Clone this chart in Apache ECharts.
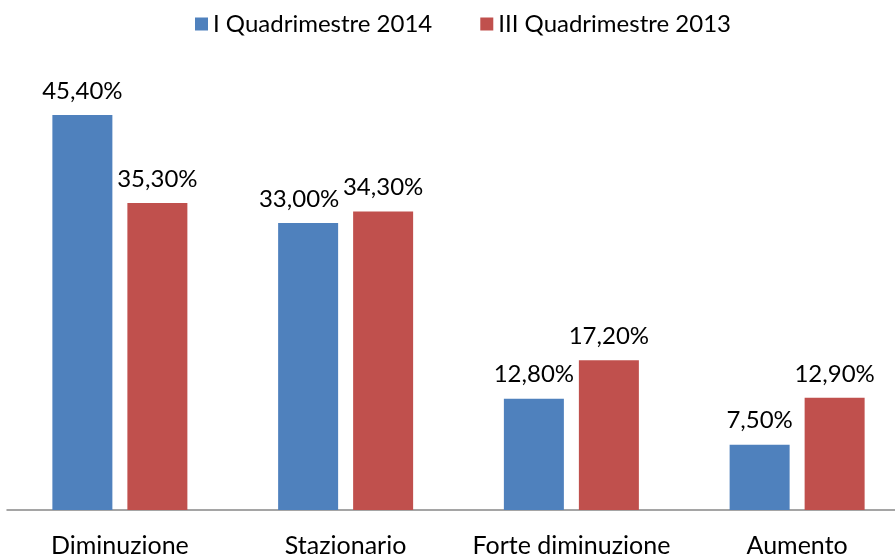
<!DOCTYPE html>
<html>
<head>
<meta charset="utf-8">
<script src="https://cdn.jsdelivr.net/npm/echarts@6/dist/echarts.min.js"></script>
<style>
    html, body { margin: 0; padding: 0; background: #fff; }
    #chart { width: 895px; height: 556px; }
</style>
</head>
<body>
<div id="chart"></div>
<script>
var categories = ['Diminuzione', 'Stazionario', 'Forte diminuzione', 'Aumento'];
var seriesNames = ['I Quadrimestre 2014', 'III Quadrimestre 2013'];
var values2014 = [45.4, 33.0, 12.8, 7.5];
var values2013 = [35.3, 34.3, 17.2, 12.9];

function fmt(p) {
    return p.value.toFixed(2).replace('.', ',') + '%';
}

var labelStyle = {
    show: true,
    position: 'top',
    distance: 12,
    color: '#000',
    fontSize: 24,
    fontFamily: 'Lato',
    formatter: fmt
};

// l'etichetta "33,00%" e' spostata a sinistra per non sovrapporsi
var data2014 = values2014.map(function (v, i) {
    if (i == 1) {
        return {value: v, label: {offset: [-9, 0]}};
    }
    return v;
});

var option = {
    animation: false,
    textStyle: {fontFamily: 'Lato'},
    legend: {
        top: 7,
        left: 190,
        itemWidth: 13,
        itemHeight: 13,
        itemGap: 48,
        icon: 'rect',
        textStyle: {fontSize: 24, color: '#000', fontFamily: 'Lato'},
        data: seriesNames
    },
    grid: {left: 7, width: 903, top: 75, bottom: 46, containLabel: false, outerBoundsMode: 'none'},
    xAxis: {
        type: 'category',
        data: categories,
        axisLine: {lineStyle: {color: '#888', width: 1.5}},
        axisTick: {show: false},
        axisLabel: {color: '#000', fontSize: 25, margin: 23, interval: 0, fontFamily: 'Lato'}
    },
    yAxis: {
        type: 'value',
        min: 0,
        max: 50,
        show: false,
        splitLine: {show: false}
    },
    series: [
        {
            name: seriesNames[0],
            type: 'bar',
            data: data2014,
            barWidth: 60,
            barGap: '25%',
            itemStyle: {color: '#4F81BD'},
            label: labelStyle
        },
        {
            name: seriesNames[1],
            type: 'bar',
            data: values2013,
            barWidth: 60,
            itemStyle: {color: '#C0504D'},
            label: labelStyle
        }
    ]
};

var chart = echarts.init(document.getElementById('chart'));
chart.setOption(option);
</script>
</body>
</html>
